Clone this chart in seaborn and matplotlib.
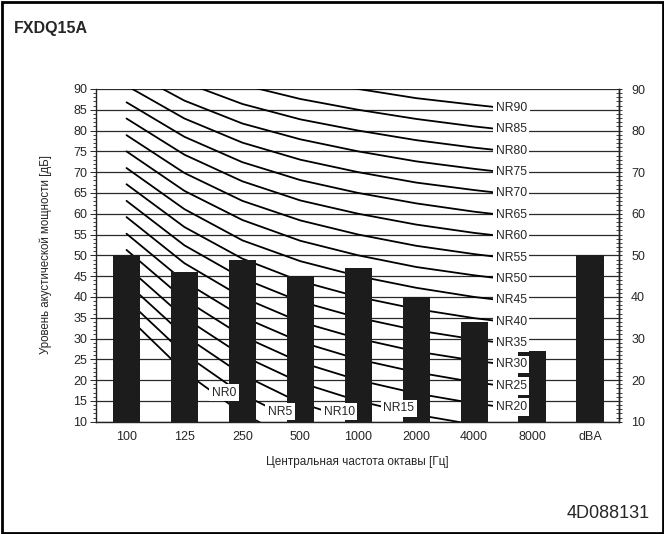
import numpy as np
import pandas as pd
import matplotlib
matplotlib.use("Agg")
import matplotlib.pyplot as plt
import seaborn as sns
from matplotlib.patches import Rectangle
from matplotlib.ticker import MultipleLocator

# ---------------- data ----------------
categories = ["100", "125", "250", "500", "1000", "2000", "4000", "8000", "dBA"]
sound_power = [50, 46, 49, 45, 47, 40, 34, 27, 50]

nr_levels = [0, 5, 10, 15, 20, 25, 30, 35, 40, 45, 50, 55, 60, 65, 70, 75, 80, 85, 90]
nr_63 = [35.5, 39.4, 43.4, 47.3, 51.3, 55.2, 59.2, 63.1, 67.1, 71.0, 75.0, 78.9, 82.9, 86.8, 90.8, 94.7, 98.7, 102.6, 106.6]
nr_125 = [22.0, 26.3, 30.7, 35.0, 39.4, 43.7, 48.1, 52.4, 56.8, 61.1, 65.5, 69.8, 74.2, 78.5, 82.9, 87.2, 91.6, 95.9, 100.3]
nr_250 = [12.0, 16.6, 21.3, 25.9, 30.6, 35.2, 39.9, 44.5, 49.2, 53.6, 58.5, 63.1, 67.8, 72.4, 77.1, 81.7, 86.4, 91.0, 95.7]
nr_500 = [4.8, 9.7, 14.5, 19.4, 24.3, 29.2, 34.0, 38.9, 43.8, 48.6, 53.5, 58.4, 63.2, 68.1, 73.0, 77.9, 82.7, 87.6, 92.5]
nr_1000 = [0.0, 5.0, 10.0, 15.0, 20.0, 25.0, 30.0, 35.0, 40.0, 45.0, 50.0, 55.0, 60.0, 65.0, 70.0, 75.0, 80.0, 85.0, 90.0]
nr_2000 = [-3.5, 1.6, 6.6, 11.7, 16.8, 21.9, 26.9, 32.0, 37.1, 42.2, 47.2, 52.3, 57.4, 62.5, 67.5, 72.6, 77.7, 82.8, 87.8]
nr_4000 = [-6.1, -1.0, 4.2, 9.3, 14.4, 19.5, 24.7, 29.8, 34.9, 40.0, 45.2, 50.3, 55.4, 60.5, 65.7, 70.8, 75.9, 81.0, 86.2]
nr_8000 = [-8.0, -2.8, 2.3, 7.4, 12.6, 17.7, 22.9, 28.0, 33.2, 38.3, 43.5, 48.6, 53.8, 58.9, 64.1, 69.2, 74.4, 79.5, 84.7]

title = "FXDQ15A"
doc_code = "4D088131"
ylabel = "Уровень акустической мощности [дБ]"
xlabel = "Центральная частота октавы [Гц]"

# ---------------- style ----------------
sns.set_style("ticks")
plt.rcParams["font.family"] = ["Liberation Sans", "DejaVu Sans"]

W, H = 664, 534
fig = plt.figure(figsize=(W / 100, H / 100), dpi=100)
ax = fig.add_axes([95.7 / W, 1 - 421.7 / H, (619.3 - 95.7) / W, (421.7 - 89) / H])

bands = np.array([nr_63, nr_125, nr_250, nr_500, nr_1000, nr_2000, nr_4000, nr_8000]).T
band_pos = np.arange(8)
right_label_x = 6.66

rows = []
for lvl, vals in zip(nr_levels, bands):
    if lvl >= 20:
        yend = np.interp(right_label_x, band_pos, vals)
        xs = list(band_pos[band_pos < right_label_x]) + [right_label_x]
        ys = list(vals[band_pos < right_label_x]) + [yend]
    else:
        xs, ys = list(band_pos), list(vals)
    for x, y in zip(xs, ys):
        rows.append({"nr": lvl, "x": x, "y": y})
curves = pd.DataFrame(rows)

sns.lineplot(data=curves, x="x", y="y", units="nr", estimator=None, color="black",
             lw=1.3, ax=ax, zorder=2, sort=False)

bars = pd.DataFrame({"cat": categories, "val": sound_power})
sns.barplot(data=bars, x="cat", y="val", color="#1c1c1c", saturation=1, width=0.47,
            ax=ax, zorder=3, edgecolor="none")
for p in ax.patches:
    p.set_zorder(3)

ax.set_xlim(-0.532, 8.505)
ax.set_ylim(10, 90)
ax.set_yticks(range(10, 91, 5))
ax.yaxis.set_minor_locator(MultipleLocator(1))
ax.grid(axis="y", color="#2a2a2a", lw=0.9)
ax.set_axisbelow(True)
ax.set_xlabel("")
ax.set_ylabel("")
ax.tick_params(axis="x", length=0, labelsize=9, pad=7)
ax.tick_params(axis="y", which="major", length=4, width=0.7, labelsize=9, pad=2)
ax.tick_params(axis="y", which="minor", length=2.5, width=0.6)
ax.spines["top"].set_visible(False)
for s in ["left", "bottom", "right"]:
    ax.spines[s].set_linewidth(1.0)
    ax.spines[s].set_color("#222222")

ax2 = ax.twinx()
ax2.set_ylim(10, 90)
ax2.set_yticks(range(10, 91, 10))
ax2.yaxis.set_minor_locator(MultipleLocator(1))
ax2.tick_params(axis="y", which="major", direction="inout", length=5, width=0.7, labelsize=9, pad=6)
ax2.tick_params(axis="y", which="minor", direction="inout", length=4.5, width=0.6)
ax2.spines["top"].set_visible(False)
ax2.spines["left"].set_visible(False)
ax2.spines["bottom"].set_visible(False)
ax2.spines["right"].set_linewidth(1.0)
ax2.spines["right"].set_color("#222222")
ax2.set_ylabel("")

box = dict(boxstyle="square,pad=0.22", fc="white", ec="none")
for lvl, vals in zip(nr_levels, bands):
    if lvl >= 20:
        y = np.interp(right_label_x, band_pos, vals) + 0.3
        ax.text(right_label_x - 0.02, y, f"NR{lvl}", ha="center", va="center", fontsize=8.7,
                bbox=box, zorder=6)

lower_label_pos = {0: (1.68, 17.0), 5: (2.65, 12.4), 10: (3.67, 12.4), 15: (4.70, 13.2)}
for lvl, (lx, ly) in lower_label_pos.items():
    ax.text(lx, ly, f"NR{lvl}", ha="center", va="center", fontsize=8.7, bbox=box, zorder=6)

fig.text(46 / W, 1 - 255 / H, ylabel, rotation=90, ha="center", va="center", fontsize=8.3)
fig.text(357.5 / W, 1 - 462 / H, xlabel, ha="center", va="center", fontsize=8.5)
fig.text(14 / W, 1 - 33 / H, title, ha="left", va="baseline", fontsize=11.5, fontweight="bold")
fig.text(650 / W, 1 - 518 / H, doc_code, ha="right", va="baseline", fontsize=13)

fig.patches.append(Rectangle((1.5 / W, 1.5 / H), 1 - 3 / W, 1 - 3 / H, transform=fig.transFigure,
                             fill=False, ec="black", lw=2))

fig.savefig("out.png", dpi=100)
